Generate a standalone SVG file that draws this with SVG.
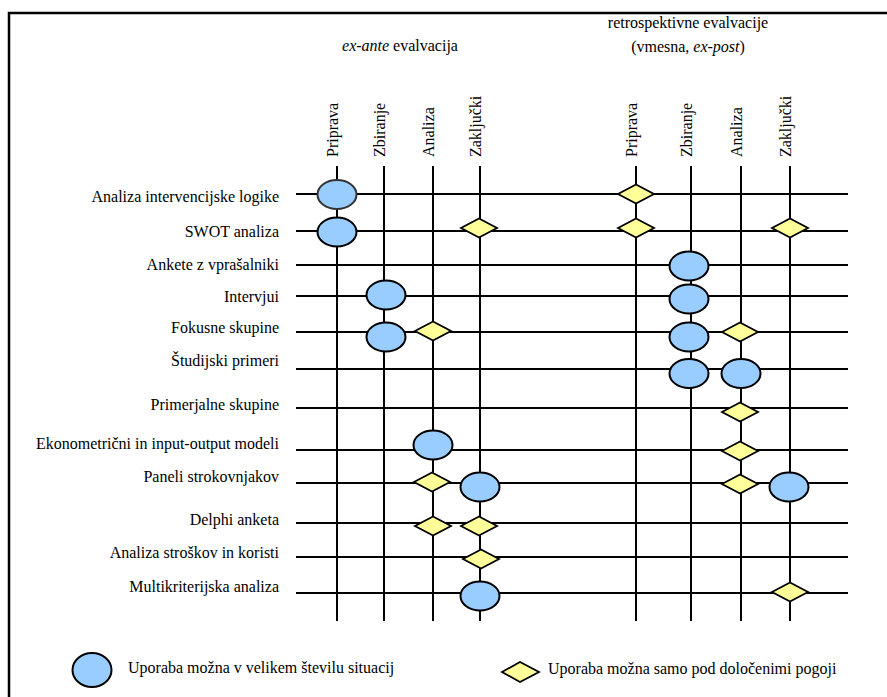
<svg xmlns="http://www.w3.org/2000/svg" width="887" height="697" viewBox="0 0 887 697">
<style>
text{font-family:'Times New Roman','Liberation Serif','DejaVu Serif',serif;font-size:16px;fill:#000}
.lbl{text-anchor:end}
.col{text-anchor:start}
.ttl{text-anchor:middle}
.ln{stroke:#000;stroke-width:2;fill:none}
.el{fill:#99CCFF;stroke:#000;stroke-width:2}
.dm{fill:#FFFF99;stroke:#000;stroke-width:1.8}
</style>
<defs>
<ellipse id="E" cx="0" cy="0" rx="19.5" ry="14.5"/>
<polygon id="D" points="-18,0 0,-9.5 18,0 0,9.5"/>
</defs>
<rect x="9" y="13" width="900" height="720" fill="#fff" stroke="#000" stroke-width="2.5"/>
<g id="titles">
<text class="ttl" x="400" y="51"><tspan font-style="italic">ex-ante</tspan> evalvacija</text>
<text class="ttl" x="688" y="28">retrospektivne evalvacije</text>
<text class="ttl" x="688" y="52">(vmesna, <tspan font-style="italic">ex-post</tspan>)</text>
</g>
<g id="columns">
<text class="col" transform="translate(338,157) rotate(-90)">Priprava</text>
<text class="col" transform="translate(385,157) rotate(-90)">Zbiranje</text>
<text class="col" transform="translate(434,157) rotate(-90)">Analiza</text>
<text class="col" transform="translate(481,157) rotate(-90)">Zaključki</text>
<text class="col" transform="translate(637,157) rotate(-90)">Priprava</text>
<text class="col" transform="translate(692,157) rotate(-90)">Zbiranje</text>
<text class="col" transform="translate(742,157) rotate(-90)">Analiza</text>
<text class="col" transform="translate(791,157) rotate(-90)">Zaključki</text>
</g>
<g id="rows">
<text class="lbl" x="279" y="202">Analiza intervencijske logike</text>
<text class="lbl" x="279" y="237">SWOT analiza</text>
<text class="lbl" x="279" y="270">Ankete z vprašalniki</text>
<text class="lbl" x="279" y="302">Intervjui</text>
<text class="lbl" x="279" y="333">Fokusne skupine</text>
<text class="lbl" x="279" y="366">Študijski primeri</text>
<text class="lbl" x="279" y="410">Primerjalne skupine</text>
<text class="lbl" x="279" y="449">Ekonometrični in input-output modeli</text>
<text class="lbl" x="279" y="482">Paneli strokovnjakov</text>
<text class="lbl" x="279" y="525">Delphi anketa</text>
<text class="lbl" x="279" y="558">Analiza stroškov in koristi</text>
<text class="lbl" x="279" y="592">Multikriterijska analiza</text>
</g>
<g id="connectors" class="ln">
<path class="ln" d="M296 194H848M296 231H848M296 265H848M296 296H848M296 332H848M296 369H848M296 408H848M296 450H848M296 483H848M296 523H848M296 557H848M296 593H848"/>
<path class="ln" d="M337 166V621M384 166V621M433 166V621M480 166V621M636 166V621M691 166V621M741 166V621M790 166V621"/>
</g>
<g id="markers">
<use id="n1a" href="#E" class="el" x="337" y="194.5" style="stroke:#333"/>
<use id="n1b" href="#D" class="dm" x="636" y="194"/>
<use id="n2a" href="#E" class="el" x="337" y="232"/>
<use id="n2b" href="#D" class="dm" x="479" y="228"/>
<use id="n2c" href="#D" class="dm" x="636" y="228"/>
<use id="n2d" href="#D" class="dm" x="790" y="228"/>
<use id="n3a" href="#E" class="el" x="689" y="266"/>
<use id="n4a" href="#E" class="el" x="386" y="295"/>
<use id="n4b" href="#E" class="el" x="689" y="299"/>
<use id="n5a" href="#E" class="el" x="386" y="337"/>
<use id="n5b" href="#D" class="dm" x="433" y="331"/>
<use id="n5c" href="#E" class="el" x="689" y="337"/>
<use id="n5d" href="#D" class="dm" x="740" y="332"/>
<use id="n6a" href="#E" class="el" x="689" y="373.5"/>
<use id="n6b" href="#E" class="el" x="741" y="373.5"/>
<use id="n7a" href="#D" class="dm" x="740" y="412"/>
<use id="n8a" href="#E" class="el" x="433" y="445"/>
<use id="n8b" href="#D" class="dm" x="740" y="451"/>
<use id="n9a" href="#D" class="dm" x="432" y="482"/>
<use id="n9b" href="#E" class="el" x="480" y="487"/>
<use id="n9c" href="#D" class="dm" x="740" y="484"/>
<use id="n9d" href="#E" class="el" x="789" y="487"/>
<use id="n10a" href="#D" class="dm" x="433" y="526"/>
<use id="n10b" href="#D" class="dm" x="479" y="526"/>
<use id="n11a" href="#D" class="dm" x="481" y="559"/>
<use id="n12a" href="#E" class="el" x="480" y="596"/>
<use id="n12b" href="#D" class="dm" x="790" y="592"/>
</g>
<g id="legend">
<ellipse class="el" cx="92" cy="670" rx="19.5" ry="17"/>
<text x="128" y="673">Uporaba možna v velikem številu situacij</text>
<polygon class="dm" points="502,672 520,662 539,672 520,682"/>
<text x="548" y="674">Uporaba možna samo pod določenimi pogoji</text>
</g>
</svg>
